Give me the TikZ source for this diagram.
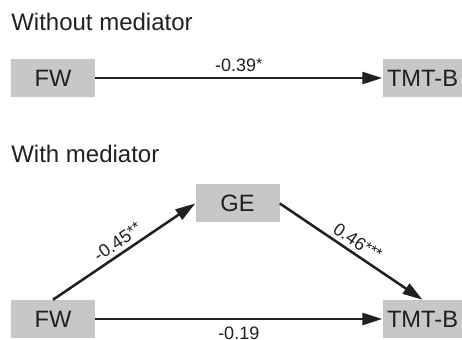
\documentclass[tikz,border=0pt]{standalone}
\usepackage{fontspec}
\setsansfont{Liberation Sans}
\definecolor{boxgray}{RGB}{199,199,199}
\definecolor{ink}{RGB}{35,31,32}
\tikzset{every picture/.style={/utils/exec={\sffamily}}}
\usetikzlibrary{positioning}
\usetikzlibrary{arrows.meta}
\newcommand{\sig}[1]{\raisebox{1.5pt}{\fontsize{12}{12}\selectfont#1}}

\begin{document}
\begin{tikzpicture}[
    var/.style={fill=boxgray, text=ink, minimum width=63pt, minimum height=28.5pt, inner sep=0pt, font=\fontsize{17.75}{20}\selectfont},
    heading/.style={anchor=base west, inner sep=0pt, text=ink, font=\fontsize{18}{20}\selectfont},
    coef/.style={inner sep=0pt, text=ink, font=\fontsize{13.5}{15}\selectfont},
    effect/.style={draw=ink, line width=1.9pt, -{Triangle[length=15pt,width=9pt]}}]
  \useasboundingbox (0,0) rectangle (346.5pt,-255pt);

  \node [heading] (without) at (8.25pt,-22.5pt) {Without mediator};
  \node [var] (fw1) at (39.75pt,-58.5pt) {FW};
  \node [var, minimum width=60pt, right=215.25pt of fw1] (tmt1) {TMT-B};

  \draw [effect] (fw1) to node[coef, above=3.5pt] {-0.39\sig{*}} (tmt1);

  \node [heading] (with) at (8.25pt,-121.5pt) {With mediator};
  \node [var] (fw2) at (39.75pt,-239.25pt) {FW};
  \node [var, minimum width=60pt, right=215.25pt of fw2] (tmt2) {TMT-B};
  \node [var, above right=57.75pt and 75pt of fw2] (ge) {GE};

  \draw [effect] (fw2.north) to node[coef, sloped, above=3pt] {-0.45\sig{**}} (ge.west);
  \draw [effect] (ge.east) to node[coef, sloped, above=3pt] {0.46\sig{***}} (tmt2.north);
  \draw [effect] (fw2) to node[coef, below=5pt] {-0.19} (tmt2);

\end{tikzpicture}
\end{document}
